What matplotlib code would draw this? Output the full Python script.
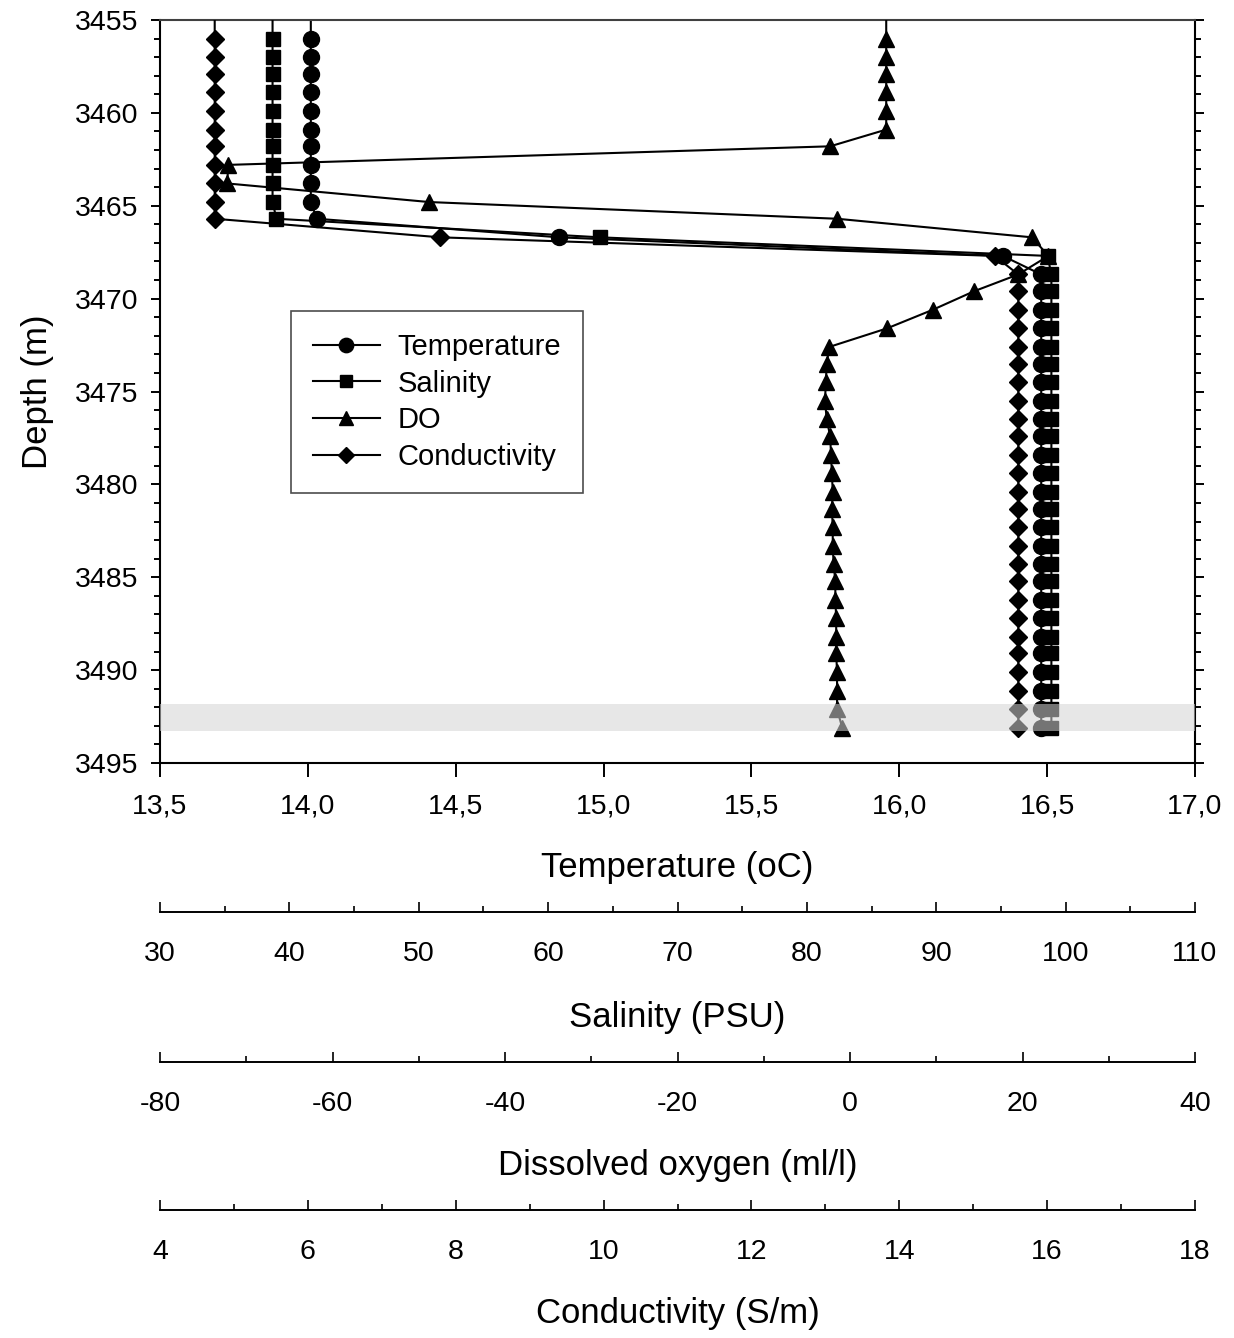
import matplotlib
matplotlib.use('Agg')
import matplotlib.pyplot as plt
from matplotlib.ticker import MultipleLocator, FuncFormatter

plt.rcParams['font.family'] = ['Liberation Sans', 'DejaVu Sans']
plt.rcParams['axes.unicode_minus'] = False

# profundidades (m); el primer punto queda por encima del marco
depth = [3454.0,
         3456.0, 3457.0, 3457.9, 3458.9, 3459.9, 3460.9, 3461.8, 3462.8, 3463.8, 3464.8,
         3465.7, 3466.7, 3467.7, 3468.7, 3469.6, 3470.6, 3471.6, 3472.6, 3473.5, 3474.5,
         3475.5, 3476.5, 3477.4, 3478.4, 3479.4, 3480.4, 3481.3, 3482.3, 3483.3, 3484.3,
         3485.2, 3486.2, 3487.2, 3488.2, 3489.1, 3490.1, 3491.1, 3492.1, 3493.1]

temperature = [14.01,
               14.01, 14.01, 14.01, 14.01, 14.01, 14.01, 14.01, 14.01, 14.01, 14.01,
               14.03, 14.85, 16.35, 16.48, 16.48, 16.48, 16.48, 16.48, 16.48, 16.48,
               16.48, 16.48, 16.48, 16.48, 16.48, 16.48, 16.48, 16.48, 16.48, 16.48,
               16.48, 16.48, 16.48, 16.48, 16.48, 16.48, 16.48, 16.48, 16.48]

salinity = [38.7,
            38.7, 38.7, 38.7, 38.7, 38.7, 38.7, 38.7, 38.7, 38.7, 38.7,
            39.0, 64.0, 98.6, 98.9, 98.9, 98.9, 98.9, 98.9, 98.9, 98.9,
            98.9, 98.9, 98.9, 98.9, 98.9, 98.9, 98.9, 98.9, 98.9, 98.9,
            98.9, 98.9, 98.9, 98.9, 98.9, 98.9, 98.9, 98.9, 98.9]

oxygen = [4.2,
          4.2, 4.2, 4.2, 4.2, 4.2, 4.2, -2.3, -72.1, -72.2, -48.8,
          -1.5, 21.1, 23.0, 19.5, 14.4, 9.6, 4.3, -2.4, -2.7, -2.8,
          -2.9, -2.7, -2.3, -2.2, -2.1, -2.0, -2.1, -2.0, -2.0, -1.9,
          -1.7, -1.7, -1.6, -1.6, -1.6, -1.5, -1.5, -1.5, -0.9]

conductivity = [4.74,
                4.74, 4.74, 4.74, 4.74, 4.74, 4.74, 4.74, 4.74, 4.74, 4.74,
                4.74, 7.79, 15.29, 15.61, 15.61, 15.61, 15.61, 15.61, 15.61, 15.61,
                15.61, 15.61, 15.61, 15.61, 15.61, 15.61, 15.61, 15.61, 15.61, 15.61,
                15.61, 15.61, 15.61, 15.61, 15.61, 15.61, 15.61, 15.61, 15.61]

# franja gris (m)
band_top, band_bottom = 3491.8, 3493.3

fig = plt.figure(figsize=(12.34, 13.38), dpi=100)
ax = fig.add_axes([160 / 1234, 1 - 763 / 1338, 1035 / 1234, 743 / 1338])
ax_s = ax.twiny()
ax_o = ax.twiny()
ax_c = ax.twiny()

estilo = dict(color='black', lw=1.5, mec='black', mfc='black')
l1, = ax.plot(temperature, depth, marker='o', ms=11.5, label='Temperature', **estilo)
l2, = ax_s.plot(salinity, depth, marker='s', ms=10, label='Salinity', **estilo)
l3, = ax_o.plot(oxygen, depth, marker='^', ms=11.5, label='DO', **estilo)
l4, = ax_c.plot(conductivity, depth, marker='D', ms=9.3, label='Conductivity', **estilo)

ax_c.axhspan(band_top, band_bottom, color='0.83', alpha=0.55, lw=0, zorder=5)

# eje principal
ax.set_xlim(13.5, 17.0)
ax.set_ylim(3495, 3455)
ax.xaxis.set_major_locator(MultipleLocator(0.5))
ax.xaxis.set_major_formatter(FuncFormatter(lambda v, p: f'{v:.1f}'.replace('.', ',')))
ax.yaxis.set_major_locator(MultipleLocator(5))
ax.yaxis.set_minor_locator(MultipleLocator(1))
ax.tick_params(axis='x', which='major', direction='out', length=10, width=1.4,
               labelsize=20.5, pad=12, top=False)
ax.tick_params(axis='y', which='both', direction='out', left=True, right=True,
               width=1.4, labelsize=20.5, pad=9)
ax.tick_params(axis='y', which='major', length=6.5)
ax.tick_params(axis='y', which='minor', length=4.5)
for s in ax.spines.values():
    s.set_linewidth(1.5)
ax.spines['top'].set_color('0.25')

ax.set_xlabel('Temperature (oC)', fontsize=25)
ax.xaxis.set_label_coords(0.5, (763 - 868) / 743)
ax.xaxis.label.set_va('center')
ax.set_ylabel('Depth (m)', fontsize=25)
ax.yaxis.set_label_coords((37 - 160) / 1035, 0.5)
ax.yaxis.label.set_va('center')

# ejes secundarios abajo
ejes = [
    (ax_s, (30, 110), 10, 5, 149, 'Salinity (PSU)', 1017),
    (ax_o, (-80, 40), 20, 10, 299, 'Dissolved oxygen (ml/l)', 1165),
    (ax_c, (4, 18), 2, 1, 447, 'Conductivity (S/m)', 1313),
]
for a, lims, mayor, menor, offset, etiqueta, ylab in ejes:
    a.set_xlim(lims)
    a.xaxis.set_ticks_position('bottom')
    a.xaxis.set_label_position('bottom')
    a.spines['bottom'].set_position(('outward', offset * 0.72))
    a.spines['bottom'].set_linewidth(1.4)
    for s in ['top', 'left', 'right']:
        a.spines[s].set_visible(False)
    a.xaxis.set_major_locator(MultipleLocator(mayor))
    a.xaxis.set_minor_locator(MultipleLocator(menor))
    a.xaxis.set_major_formatter(FuncFormatter(lambda v, p: f'{v:.0f}'))
    a.tick_params(axis='x', which='both', direction='in', width=1.2, labelsize=20.5, pad=21)
    a.tick_params(axis='x', which='major', length=7)
    a.tick_params(axis='x', which='minor', length=4.5)
    a.set_xlabel(etiqueta, fontsize=25)
    a.xaxis.set_label_coords(0.5, (763 - ylab) / 743)
    a.xaxis.label.set_va('center')

leg = ax_c.legend(handles=[l1, l2, l3, l4], loc='upper left',
                  bbox_to_anchor=((291 - 160) / 1035, 1 - (311 - 20) / 743),
                  bbox_transform=ax.transAxes, borderaxespad=0, fontsize=21,
                  handlelength=2.3, handletextpad=0.6, labelspacing=0.3,
                  borderpad=0.75, fancybox=False, framealpha=1, edgecolor='0.3',
                  markerscale=0.9)
leg.get_frame().set_linewidth(1.2)
leg.set_zorder(10)

fig.savefig('out.png', dpi=100)
